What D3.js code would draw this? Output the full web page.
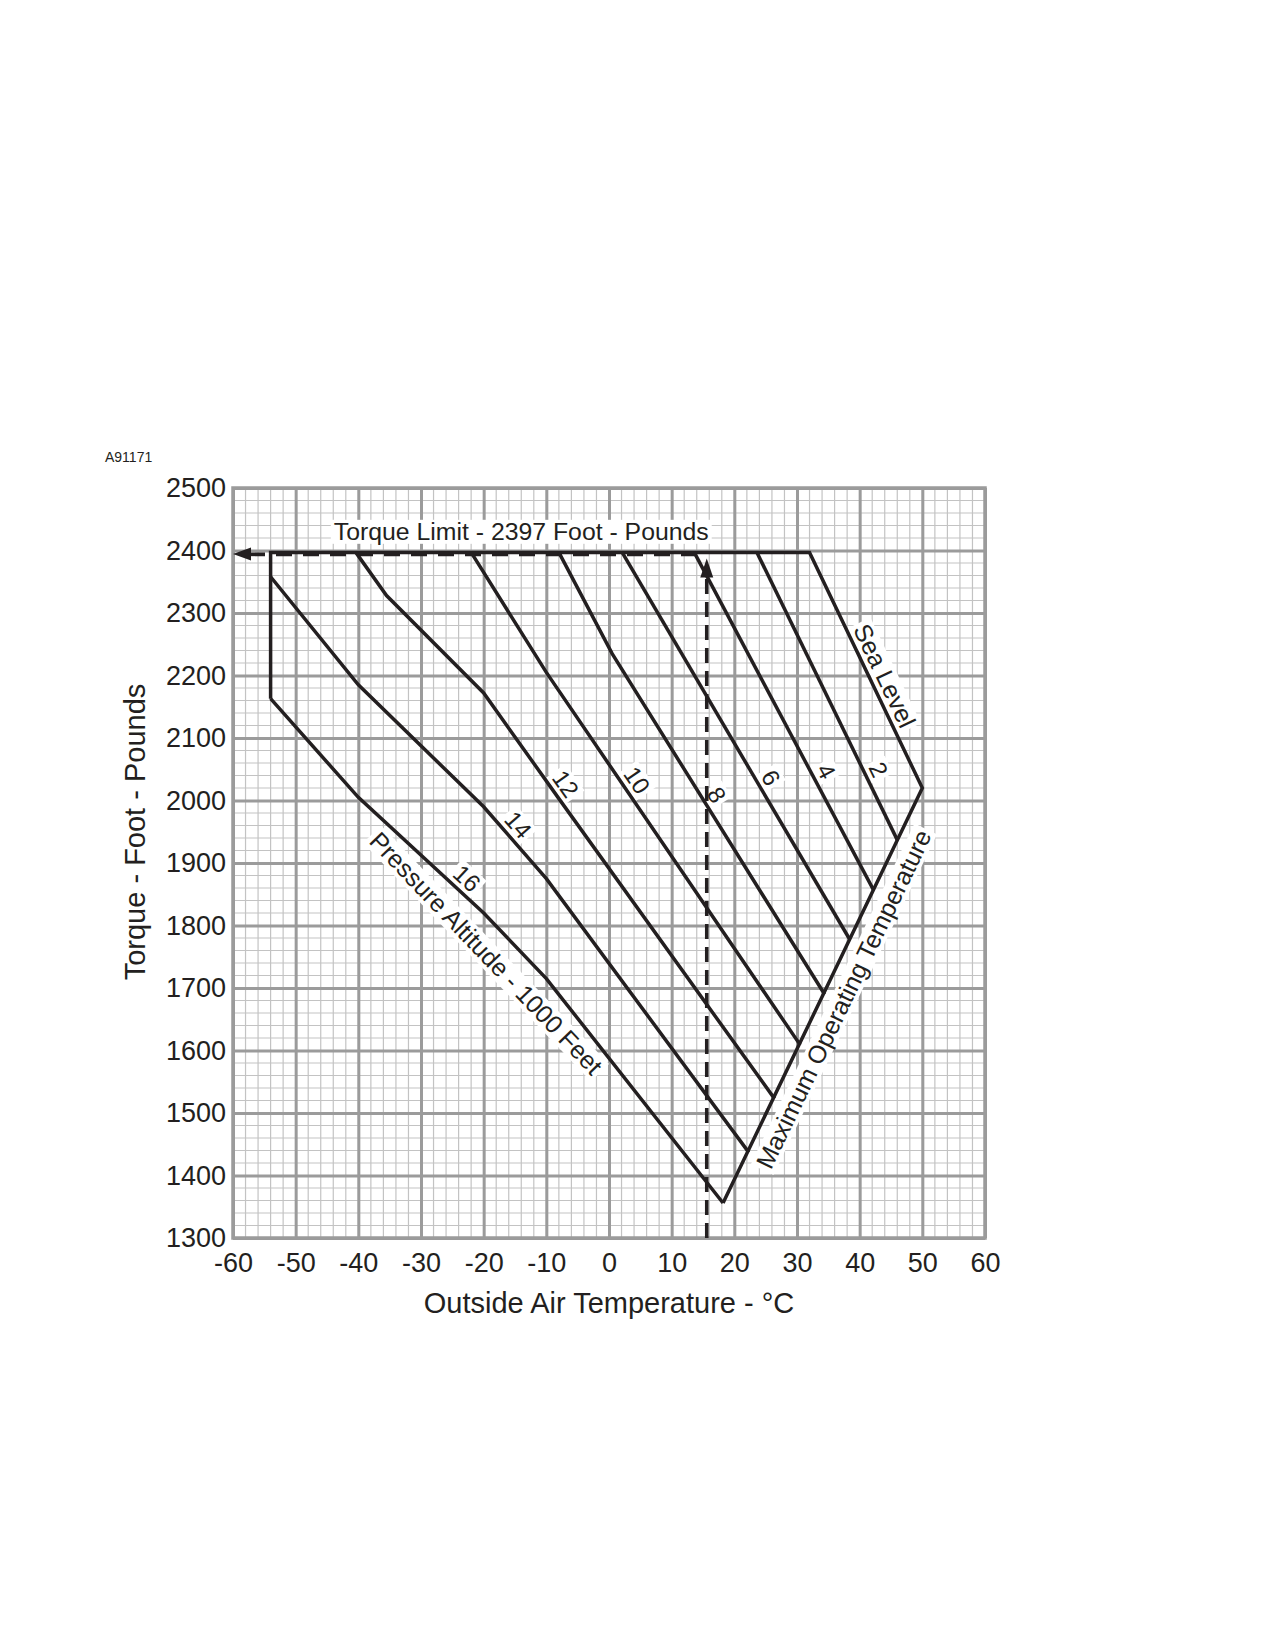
<!DOCTYPE html>
<html>
<head>
<meta charset="utf-8">
<script src="https://cdn.jsdelivr.net/npm/d3@7"></script>
<style>
  body { margin: 0; background: #fff; }
  svg { display: block; font-family: "Liberation Sans", Arial, Helvetica, sans-serif; }
</style>
</head>
<body>
<svg id="main"></svg>
<script>
// values: outside air temp (deg C), torque (foot-pounds)
var xTicks = [-60, -50, -40, -30, -20, -10, 0, 10, 20, 30, 40, 50, 60];
var yTicks = [1300, 1400, 1500, 1600, 1700, 1800, 1900, 2000, 2100, 2200, 2300, 2400, 2500];
var torqueLimit = 2397;
var exampleTemp = 15.6;

// pressure altitude lines (1000 ft)
var alt16 = [[-54, 2163], [-40, 2005], [-20, 1820], [-10, 1715], [18.2, 1356]];
var alt14 = [[-54, 2358], [-40, 2185], [-20, 1990], [-10, 1875], [22.3, 1437]];
var alt12 = [[-40.4, 2397], [-35.5, 2328], [-20, 2172], [-8, 2003], [26.4, 1523]];
var alt10 = [[-22, 2397], [-10, 2205], [30.5, 1609]];
var alt8  = [[-8, 2397], [0.5, 2235], [34.4, 1690]];
var alt6  = [[2.1, 2397], [38.4, 1778]];
var alt4  = [[13.6, 2397], [42.2, 1857]];
var alt2  = [[23.6, 2397], [46, 1937]];
var seaLevel   = [[32, 2397], [50, 2020]];
var maxOpTemp  = [[50, 2020], [18.2, 1356]];
var leftLimit  = [[-54, 2163], [-54, 2397]];
var limitLine  = [[-54, 2397], [32, 2397]];

var altLines = [alt16, alt14, alt12, alt10, alt8, alt6, alt4, alt2];
var altNames = ["16", "14", "12", "10", "8", "6", "4", "2"];
// temperature along each line where its name sits
var altNameT = [-24.2, -16.2, -8.75, 2.6, 15.3, 23.9, 32.7, 41.0];

var W = 1275, H = 1650;
var ink = "#231f20";

var svg = d3.select("#main").attr("width", W).attr("height", H);

var x = d3.scaleLinear().domain([-60, 60]).range([233, 985]);
var y = d3.scaleLinear().domain([1300, 2500]).range([1238, 488]);
var plotW = x(60) - x(-60), plotH = y(1300) - y(2500);

var line = d3.line().x(function(d) { return x(d[0]); }).y(function(d) { return y(d[1]); });

// minor grid
var grid = svg.append("g");
grid.selectAll("line.vx").data(x.ticks(60)).enter().append("line")
  .attr("x1", function(d) { return x(d); }).attr("x2", function(d) { return x(d); })
  .attr("y1", y(2500)).attr("y2", y(1300))
  .attr("stroke", "#c3c3c3").attr("stroke-width", 1.2);
grid.selectAll("line.hy").data(y.ticks(60)).enter().append("line")
  .attr("y1", function(d) { return y(d); }).attr("y2", function(d) { return y(d); })
  .attr("x1", x(-60)).attr("x2", x(60))
  .attr("stroke", "#c3c3c3").attr("stroke-width", 1.2);

// major grid + tick labels via axes
var xAxis = svg.append("g").attr("transform", "translate(0," + y(1300) + ")")
  .call(d3.axisBottom(x).tickValues(xTicks).tickSize(-plotH).tickPadding(15)
    .tickFormat(function(d) { return String(d); }));
var yAxis = svg.append("g").attr("transform", "translate(" + x(-60) + ",0)")
  .call(d3.axisLeft(y).tickValues(yTicks).tickSize(-plotW).tickPadding(7)
    .tickFormat(function(d) { return String(d); }));
[xAxis, yAxis].forEach(function(a) {
  a.select(".domain").remove();
  a.selectAll(".tick line").attr("stroke", "#9b9b9b").attr("stroke-width", 3);
  a.selectAll(".tick text").attr("fill", ink).style("font-size", "27px")
    .style("font-family", "'Liberation Sans', Arial, sans-serif");
});
svg.append("rect").attr("x", x(-60)).attr("y", y(2500)).attr("width", plotW).attr("height", plotH)
  .attr("fill", "none").attr("stroke", "#9b9b9b").attr("stroke-width", 3.5);

// point and screen angle of a polyline at temperature t
function onLine(pts, t) {
  var s = pts.slice().sort(function(a, b) { return a[0] - b[0]; });
  var i = 0;
  while (i < s.length - 2 && t > s[i + 1][0]) i++;
  var a = s[i], b = s[i + 1];
  var q = a[1] + (t - a[0]) / (b[0] - a[0]) * (b[1] - a[1]);
  var ang = Math.atan2(y(b[1]) - y(a[1]), x(b[0]) - x(a[0]));
  return { px: x(t), py: y(q), ang: ang };
}

var labels = svg.append("g");
function addLabel(txt, cx, cy, angDeg, size) {
  var g = labels.append("g")
    .attr("transform", "translate(" + cx + "," + cy + ") rotate(" + angDeg + ")");
  var bg = g.append("rect").attr("fill", "#fff");
  var t = g.append("text").attr("text-anchor", "middle").attr("dy", "0.35em")
    .attr("fill", ink).style("font-size", size + "px").text(txt);
  var b = t.node().getBBox();
  bg.attr("x", b.x - 3).attr("y", b.y + 2).attr("width", b.width + 6).attr("height", b.height - 3);
}
// label beside a line, shifted off it by d px (positive = toward the text's top side)
function lineLabel(txt, pts, t, d, size) {
  var p = onLine(pts, t);
  var ux = Math.sin(p.ang), uy = -Math.cos(p.ang);
  addLabel(txt, p.px + d * ux, p.py + d * uy, p.ang * 180 / Math.PI, size);
}

altNames.forEach(function(n, i) { lineLabel(n, altLines[i], altNameT[i], 14, 24); });
lineLabel("Sea Level", seaLevel, 41.9, 14.5, 25);
lineLabel("Maximum Operating Temperature", maxOpTemp, 34.5, -20.5, 25);
lineLabel("Pressure Altitude - 1000 Feet", alt16, -16.6, -26, 25);
addLabel("Torque Limit - 2397 Foot - Pounds", x(-14), y(2431), 0, 24.8);

// example read-off: dashed guide lines with arrows
var guide = svg.append("g").attr("stroke", ink).attr("fill", "none");
guide.append("line")
  .attr("x1", x(-60) + 16).attr("x2", x(exampleTemp))
  .attr("y1", y(torqueLimit) + 2).attr("y2", y(torqueLimit) + 2)
  .attr("stroke-width", 3.6).attr("stroke-dasharray", "16,11");
guide.append("line")
  .attr("x1", x(exampleTemp)).attr("x2", x(exampleTemp))
  .attr("y1", y(1300)).attr("y2", y(torqueLimit) + 16)
  .attr("stroke-width", 3.6).attr("stroke-dasharray", "15,8");
svg.append("path").attr("fill", ink)
  .attr("d", "M" + x(-60) + "," + (y(torqueLimit) + 1.5) + "l18,-6.5v13z");
svg.append("path").attr("fill", ink)
  .attr("d", "M" + x(exampleTemp) + "," + (y(torqueLimit) + 6) + "l-6.5,19h13z");

// chart lines
var curves = svg.append("g").attr("fill", "none").attr("stroke", ink)
  .attr("stroke-width", 3.5).attr("stroke-linejoin", "miter");
curves.append("path").attr("d", line(leftLimit.concat(limitLine.slice(1), seaLevel.slice(1), maxOpTemp.slice(1))));
curves.selectAll("path.alt").data(altLines).enter().append("path").attr("class", "alt").attr("d", line);

// titles
svg.append("text").attr("x", 105).attr("y", 462).attr("fill", ink)
  .style("font-size", "14px").text("A91171");
svg.append("text").attr("transform", "translate(135,832) rotate(-90)")
  .attr("text-anchor", "middle").attr("dy", "0.35em").attr("fill", ink)
  .style("font-size", "29px").text("Torque - Foot - Pounds");
svg.append("text").attr("x", (x(-60) + x(60)) / 2).attr("y", 1303)
  .attr("text-anchor", "middle").attr("dy", "0.35em").attr("fill", ink)
  .style("font-size", "29px").text("Outside Air Temperature - °C");
</script>
</body>
</html>
